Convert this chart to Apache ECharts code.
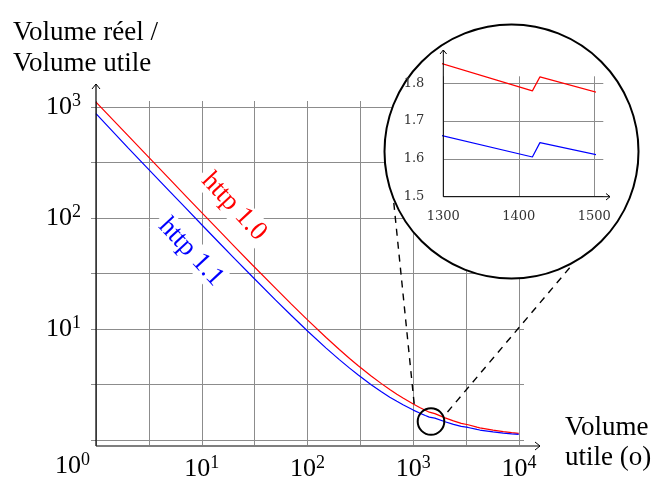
<!DOCTYPE html>
<html><head><meta charset="utf-8">
<script src="https://cdn.jsdelivr.net/npm/echarts@6/dist/echarts.min.js"></script>
<style>html,body{margin:0;padding:0;background:#fff}#c{width:659px;height:482px}</style>
</head><body><div id="c"></div>
<script>
// ---- data ----
const sizes  = [1, 2, 3, 5, 7, 10, 15, 20, 30, 50, 70, 100, 150, 200, 250, 300, 400, 500, 600, 700, 800, 1000, 1150, 1300, 1418, 1428, 1600, 2000, 2400, 2840, 2850, 3300, 4000, 4260, 4270, 5680, 5690, 7100, 7110, 8520, 8530, 9940, 10000];
const http10 = [1107, 555, 370, 222.6, 159.3, 111.8, 74.9, 56.4, 37.9, 23.2, 16.83, 12.08, 8.39, 6.54, 5.43, 4.69, 3.77, 3.22, 2.85, 2.58, 2.385, 2.11, 1.963, 1.852, 1.781, 1.817, 1.73, 1.584, 1.487, 1.411, 1.430, 1.372, 1.307, 1.288, 1.301, 1.227, 1.237, 1.190, 1.198, 1.165, 1.172, 1.148, 1.153];
const http11 = [870, 431, 287.7, 173, 123.9, 87, 58.3, 44, 29.7, 18.2, 13.29, 9.6, 6.73, 5.3, 4.44, 3.87, 3.15, 2.72, 2.43, 2.23, 2.075, 1.86, 1.748, 1.661, 1.606, 1.643, 1.575, 1.459, 1.383, 1.325, 1.343, 1.297, 1.2445, 1.2296, 1.243, 1.183, 1.193, 1.155, 1.163, 1.136, 1.143, 1.122, 1.128];
const zoomSizes  = [1297, 1418, 1428, 1507];
const zoomHttp10 = [1.853, 1.780, 1.817, 1.774];
const zoomHttp11 = [1.662, 1.605, 1.643, 1.609];
const xTickExponents = [1, 2, 3, 4];
const yTickExponents = [1, 2, 3];
const zoomXTicks = [1300, 1400, 1500];
const zoomYTicks = ['1.5', '1.6', '1.7', '1.8'];

const SERIF = 'Liberation Serif';
const SMALL = 'DejaVu Serif';
const GRAY = '#8c8c8c';
const chart = echarts.init(document.getElementById('c'), null, {renderer: 'canvas'});

const pairs = (xs, ys) => xs.map((x, i) => [x, ys[i]]);
const rich = {
  b: {fontFamily: SERIF, fontSize: 26, lineHeight: 30, color: '#000', verticalAlign: 'middle'},
  s: {fontFamily: SERIF, fontSize: 18, lineHeight: 18, color: '#000', verticalAlign: 'top'}
};
const logFmt = (list) => (v) => {
  const e2 = Math.round(Math.log10(v) * 2);
  if (e2 % 2 !== 0) return '';
  const e = e2 / 2;
  return list.indexOf(e) >= 0 ? '{b|10}{s|' + e + '}' : '';
};
const base = Math.sqrt(10);
const tick = (len) => ({show: true, length: len, lineStyle: {color: GRAY, width: 1}});
const F = (px) => px + 'px "' + SERIF + '"';

const option = {
  animation: false,
  backgroundColor: '#fff',
  grid: [
    {left: 96, top: 107, width: 423, height: 339},
    {left: 443.3, top: 83.3, width: 151, height: 113.4}
  ],
  xAxis: [
    {type: 'log', logBase: base, min: 1, max: 10000, gridIndex: 0, position: 'bottom',
     axisLine: {show: false}, axisTick: tick(5),
     splitLine: {show: true, lineStyle: {color: GRAY, width: 1}},
     axisLabel: {show: true, margin: 14, formatter: logFmt(xTickExponents), rich: rich}},
    {type: 'log', logBase: base, min: 1, max: 10000, gridIndex: 0, position: 'top',
     axisLine: {show: false}, axisTick: tick(6), splitLine: {show: false}, axisLabel: {show: false}},
    {type: 'value', min: 1300, max: 1500, interval: 100, gridIndex: 1, position: 'bottom', z: 10,
     axisLine: {show: false}, axisTick: {show: false},
     splitLine: {show: true, lineStyle: {color: GRAY, width: 1}},
     axisLabel: {show: true, margin: 13, fontFamily: SMALL, fontSize: 13, color: '#333',
       formatter: (v) => zoomXTicks.indexOf(v) >= 0 ? String(v) : ''}},
    {type: 'value', min: 1300, max: 1500, interval: 100, gridIndex: 1, position: 'top', z: 10,
     axisLine: {show: false}, axisTick: tick(7), splitLine: {show: false}, axisLabel: {show: false}}
  ],
  yAxis: [
    {type: 'log', logBase: base, min: 1, max: 1000, gridIndex: 0, position: 'left',
     axisLine: {show: false}, axisTick: tick(5),
     splitLine: {show: true, lineStyle: {color: GRAY, width: 1}},
     axisLabel: {show: true, margin: 15, formatter: logFmt(yTickExponents), rich: rich}},
    {type: 'log', logBase: base, min: 1, max: 1000, gridIndex: 0, position: 'right',
     axisLine: {show: false}, axisTick: tick(5), splitLine: {show: false}, axisLabel: {show: false}},
    {type: 'value', min: 1.5, max: 1.8, interval: 0.1, gridIndex: 1, position: 'left', z: 10,
     axisLine: {show: false}, axisTick: {show: false},
     splitLine: {show: true, lineStyle: {color: GRAY, width: 1}},
     axisLabel: {show: true, margin: 19, fontFamily: SMALL, fontSize: 13, color: '#333',
       formatter: (v) => { const s = v.toFixed(1); return zoomYTicks.indexOf(s) >= 0 ? s : ''; }}},
    {type: 'value', min: 1.5, max: 1.8, interval: 0.1, gridIndex: 1, position: 'right', z: 10,
     axisLine: {show: false}, axisTick: tick(9), splitLine: {show: false}, axisLabel: {show: false}}
  ],
  series: [
    {name: 'http 1.0', type: 'line', xAxisIndex: 0, yAxisIndex: 0, data: pairs(sizes, http10),
     symbol: 'none', clip: false, lineStyle: {color: '#ff0000', width: 1.2}, z: 2},
    {name: 'http 1.1', type: 'line', xAxisIndex: 0, yAxisIndex: 0, data: pairs(sizes, http11),
     symbol: 'none', clip: false, lineStyle: {color: '#0000ff', width: 1.2}, z: 2},
    {name: 'http 1.0 zoom', type: 'line', xAxisIndex: 2, yAxisIndex: 2, data: pairs(zoomSizes, zoomHttp10),
     symbol: 'none', clip: false, lineStyle: {color: '#ff0000', width: 1.2}, z: 11},
    {name: 'http 1.1 zoom', type: 'line', xAxisIndex: 2, yAxisIndex: 2, data: pairs(zoomSizes, zoomHttp11),
     symbol: 'none', clip: false, lineStyle: {color: '#0000ff', width: 1.2}, z: 11}
  ],
  graphic: [
    {type: 'line', z: 3, shape: {x1: 96, y1: 446, x2: 540, y2: 446}, style: {stroke: '#000', lineWidth: 1.2}},
    {type: 'line', z: 3, shape: {x1: 96, y1: 446, x2: 96, y2: 84}, style: {stroke: '#000', lineWidth: 1.2}},
    {type: 'polyline', z: 3, shape: {points: [[535, 442], [540, 446], [535, 450]]}, style: {stroke: '#000', fill: 'none', lineWidth: 1}},
    {type: 'polyline', z: 3, shape: {points: [[92, 89], [96, 84], [100, 89]]}, style: {stroke: '#000', fill: 'none', lineWidth: 1}},
    {type: 'text', z: 3, x: 90, y: 466, style: {text: '{b|10}{s|0}', rich: rich, align: 'right', verticalAlign: 'middle'}},
    {type: 'text', z: 3, x: 13, y: 33, style: {text: 'Volume réel /', fill: '#000', font: F(27), align: 'left', verticalAlign: 'middle'}},
    {type: 'text', z: 3, x: 13, y: 64, style: {text: 'Volume utile', fill: '#000', font: F(27), align: 'left', verticalAlign: 'middle'}},
    {type: 'text', z: 3, x: 565, y: 428, style: {text: 'Volume', fill: '#000', font: F(27), align: 'left', verticalAlign: 'middle'}},
    {type: 'text', z: 3, x: 565, y: 458, style: {text: 'utile (o)', fill: '#000', font: F(27), align: 'left', verticalAlign: 'middle'}},
    {type: 'text', z: 4, x: 234, y: 206.5, rotation: -0.82, style: {text: 'http 1.0', fill: '#ff0000', font: F(27), align: 'center', verticalAlign: 'middle', backgroundColor: '#fff', padding: [0, 5]}},
    {type: 'text', z: 4, x: 191, y: 252, rotation: -0.82, style: {text: 'http 1.1', fill: '#0000ff', font: F(27), align: 'center', verticalAlign: 'middle', backgroundColor: '#fff', padding: [0, 5]}},
    {type: 'line', z: 4, shape: {x1: 392.5, y1: 190, x2: 414.5, y2: 407}, style: {stroke: '#000', lineWidth: 1.4, lineDash: [7, 6]}},
    {type: 'line', z: 4, shape: {x1: 447.5, y1: 412, x2: 572, y2: 265}, style: {stroke: '#000', lineWidth: 1.4, lineDash: [7, 6]}},
    {type: 'circle', z: 6, shape: {cx: 431, cy: 421.5, r: 13.3}, style: {fill: 'none', stroke: '#000', lineWidth: 2}},
    {type: 'circle', z: 5, shape: {cx: 511.5, cy: 151.5, r: 127}, style: {fill: '#fff', stroke: '#000', lineWidth: 2}},
    {type: 'line', z: 12, shape: {x1: 443.3, y1: 196.7, x2: 610, y2: 196.7}, style: {stroke: '#000', lineWidth: 1}},
    {type: 'line', z: 12, shape: {x1: 443.3, y1: 196.7, x2: 443.3, y2: 50}, style: {stroke: '#000', lineWidth: 1}},
    {type: 'polyline', z: 12, shape: {points: [[606, 193.5], [610, 196.7], [606, 200]]}, style: {stroke: '#000', fill: 'none', lineWidth: 1}},
    {type: 'polyline', z: 12, shape: {points: [[440, 54], [443.3, 50], [446.6, 54]]}, style: {stroke: '#000', fill: 'none', lineWidth: 1}}
  ]
};
chart.setOption(option);
</script></body></html>
